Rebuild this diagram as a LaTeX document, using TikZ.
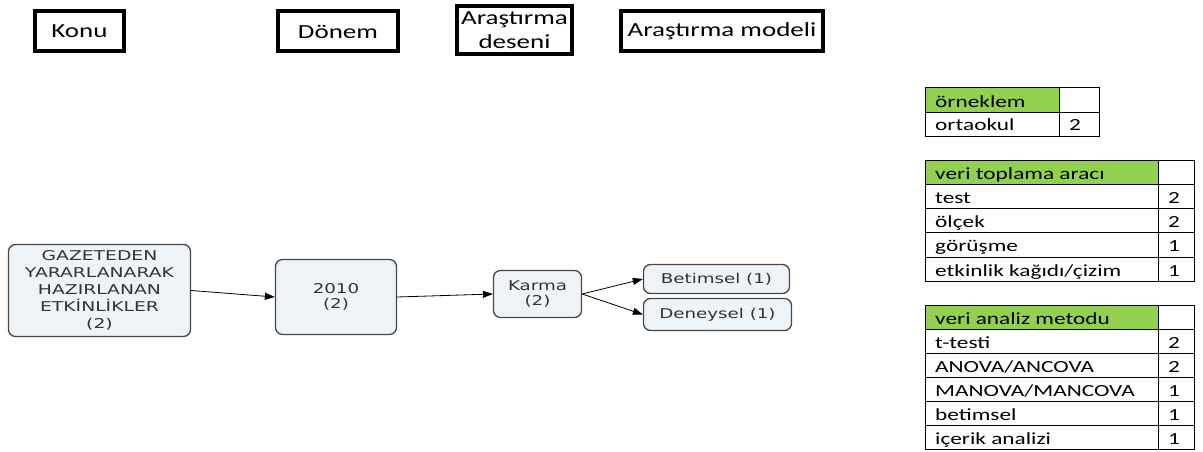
\documentclass[tikz,border=0pt]{standalone}
\usepackage{fontspec}
\setmainfont{Carlito}
\newfontfamily\hdrfont[FakeStretch=1.35]{Carlito}
\newfontfamily\tabfont[FakeStretch=1.37]{Carlito}
\newfontfamily\vfontA[FakeStretch=1.39]{DejaVu Sans}
\newfontfamily\vfontB[FakeStretch=1.35]{DejaVu Sans}
\usetikzlibrary{arrows.meta}
\definecolor{boxfill}{HTML}{EEF3F7}
\definecolor{boxline}{HTML}{484848}
\definecolor{boxtext}{HTML}{333333}
\definecolor{hdrgreen}{HTML}{92D050}
\tikzset{
 hdr/.style={draw=black,line width=4pt,align=center,font=\hdrfont\fontsize{20}{24}\selectfont,inner sep=0pt},
 rbox/.style={draw=boxline,fill=boxfill,rounded corners=7pt,line width=1.3pt,align=center,text=boxtext,font=\vfontB\fontsize{13.5}{15}\selectfont,inner sep=0pt},
 arr/.style={-{Triangle[length=10pt,width=7pt]},line width=0.8pt},
 cell/.style={draw=black,line width=0.8pt},
 ctext/.style={anchor=base west,font=\tabfont\fontsize{17}{18}\selectfont,inner sep=0pt}
}
\begin{document}
\begin{tikzpicture}[x=1pt,y=-1pt]
\useasboundingbox (0,0) rectangle (1203,452);
% header boxes
\node[hdr,minimum width=89pt,minimum height=40pt] (konu) at (79.5,31) {Konu};
\node[hdr,minimum width=120pt,minimum height=40pt] (donem) at (338,31.5) {Dönem};
\node[hdr,minimum width=115pt,minimum height=48pt] (desen) at (514.5,30) {Araştırma\\deseni};
\node[hdr,minimum width=202pt,minimum height=40pt] (model) at (722,31) {Araştırma modeli};
% rounded boxes
\node[rbox,minimum width=182pt,minimum height=92pt,font=\vfontA\fontsize{13.5}{17}\selectfont] (konubox) at (99.5,290.5) {GAZETEDEN\\YARARLANARAK\\HAZIRLANAN\\ETKİNLİKLER\\(2)};
\node[rbox,minimum width=121pt,minimum height=75pt] (yil) at (336,297) {2010\\(2)};
\node[rbox,minimum width=88pt,minimum height=47pt] (karma) at (537.5,294) {Karma\\(2)};
\node[rbox,minimum width=146pt,minimum height=29pt] (betim) at (716.5,279) {Betimsel (1)};
\node[rbox,minimum width=148pt,minimum height=32pt] (deney) at (717.5,314.5) {Deneysel (1)};
\draw[arr] (konubox.east) -- (yil.west);
\draw[arr] (yil.east) -- (karma.west);
\draw[arr] (karma.east) -- (betim.west);
\draw[arr] (karma.east) -- (deney.west);
% table 1
\fill[hdrgreen] (925,87) rectangle (1059,112);
\draw[cell] (925,87) rectangle (1099,136);
\draw[cell] (925,112) -- (1099,112);
\draw[cell] (1059,87) -- (1059,136);
\node[ctext] (t1h) at (935,107) {örneklem};
\node[ctext] (t1a) at (935,131) {ortaokul};
\node[ctext] (t1b) at (1069,131) {2};
% table 2
\fill[hdrgreen] (925,160) rectangle (1158,184);
\draw[cell] (925,160) rectangle (1194,281);
\foreach \y in {184,208,232,257} \draw[cell] (925,\y) -- (1194,\y);
\draw[cell] (1158,160) -- (1158,281);
\node[ctext] (t2h) at (935,179) {veri toplama aracı};
\foreach \y/\a/\b [count=\i] in {203/test/2,227/ölçek/2,251.5/görüşme/1,276/{etkinlik kağıdı/çizim}/1}{
  \node[ctext] (t2a\i) at (935,\y) {\a};
  \node[ctext] (t2b\i) at (1168,\y) {\b};
}
% table 3
\fill[hdrgreen] (925,305) rectangle (1158,329);
\draw[cell] (925,305) rectangle (1194,449);
\foreach \y in {329,353,377,401,425} \draw[cell] (925,\y) -- (1194,\y);
\draw[cell] (1158,305) -- (1158,449);
\node[ctext] (t3h) at (935,324) {veri analiz metodu};
\foreach \y/\a/\b [count=\i] in {348/t-testi/2,372/{ANOVA/ANCOVA}/2,396/{MANOVA/MANCOVA}/1,420/betimsel/1,444/içerik analizi/1}{
  \node[ctext] (t3a\i) at (935,\y) {\a};
  \node[ctext] (t3b\i) at (1168,\y) {\b};
}
\end{tikzpicture}
\end{document}
